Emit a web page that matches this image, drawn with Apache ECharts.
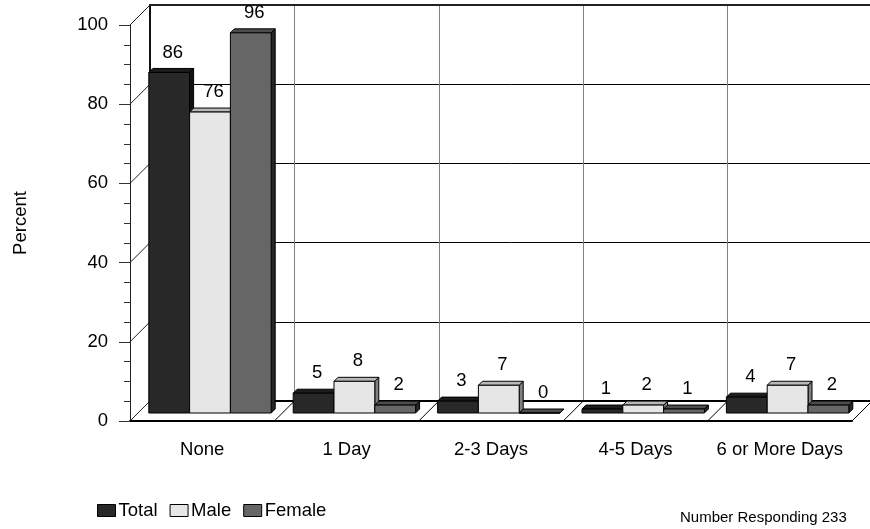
<!DOCTYPE html>
<html>
<head>
<meta charset="utf-8">
<style>
  html, body { margin: 0; padding: 0; background: #fff; }
  #chart { width: 870px; height: 529px; }
</style>
<script src="https://cdn.jsdelivr.net/npm/echarts@6/dist/echarts.min.js"></script>
</head>
<body>
<div id="chart"></div>
<script>
var categories = ['None', '1 Day', '2-3 Days', '4-5 Days', '6 or More Days'];
var seriesNames = ['Total', 'Male', 'Female'];
var totalValues = [86, 5, 3, 1, 4];
var maleValues = [76, 8, 7, 2, 7];
var femaleValues = [96, 2, 0, 1, 2];
var wallTicks = [0, 20, 40, 60, 80, 100];
var note = 'Number Responding 233';

var font = '"Liberation Sans", Arial, sans-serif';
var wallDepth = 20;   // front plane to back wall, px
var barLift = 8;      // bars stand a bit behind the front edge
var barInset = 18.8;
var barWidth = 40.8;
var barDepth = 4;

// one 3d bar: face, top and side, plus the value above it
function barRenderer(slot, face, top, side) {
  return function (params, api) {
    var cat = api.value(0);
    var val = api.value(1);
    var p = api.coord([cat, val]);
    var base = api.coord([cat, 0]);
    var band = api.size([1, 0])[0];
    var x0 = p[0] - band / 2 + barInset + slot * barWidth;
    var x1 = x0 + barWidth;
    var yTop = p[1] - barLift;
    var yBase = base[1] - barLift;
    var line = { stroke: '#000', lineWidth: 1 };
    return {
      type: 'group',
      children: [
        { type: 'polygon', shape: { points: [[x1, yTop], [x1 + barDepth, yTop - barDepth], [x1 + barDepth, yBase - barDepth], [x1, yBase]] },
          style: Object.assign({ fill: side }, line) },
        { type: 'polygon', shape: { points: [[x0, yTop], [x0 + barDepth, yTop - barDepth], [x1 + barDepth, yTop - barDepth], [x1, yTop]] },
          style: Object.assign({ fill: top }, line) },
        { type: 'rect', shape: { x: x0, y: yTop, width: barWidth, height: yBase - yTop },
          style: Object.assign({ fill: face }, line) },
        { type: 'text', z2: 10, style: { text: String(val), x: x0 + barWidth / 2 + 3.5, y: yTop - 20,
            align: 'center', verticalAlign: 'middle', fill: '#000', font: '18.5px ' + font } }
      ]
    };
  };
}

// diagonals on the left wall
function wallRenderer(params, api) {
  var p = api.coord([0, api.value(0)]);
  var band = api.size([1, 0])[0];
  var x = p[0] - band / 2;
  return { type: 'line', shape: { x1: x, y1: p[1], x2: x + wallDepth, y2: p[1] - wallDepth },
    style: { stroke: '#222', lineWidth: 1 } };
}

// diagonals on the floor, one per category boundary
function floorRenderer(params, api) {
  var p = api.coord([api.value(0), 0]);
  var band = api.size([1, 0])[0];
  var x = p[0] + band / 2;
  return { type: 'line', shape: { x1: x, y1: p[1], x2: x + wallDepth, y2: p[1] - wallDepth },
    style: { stroke: '#000', lineWidth: 1 } };
}

function toPoints(values) {
  return values.map(function (v, i) { return [i, v]; });
}

var chart = echarts.init(document.getElementById('chart'));
chart.setOption({
  animation: false,
  backgroundColor: '#fff',
  textStyle: { fontFamily: font },
  title: {
    text: note, left: 675, top: 505,
    textStyle: { fontSize: 15, fontWeight: 'normal', color: '#000', fontFamily: font }
  },
  legend: {
    left: 97, top: 501, padding: 0, icon: 'rect',
    itemWidth: 18, itemHeight: 12, itemGap: 12,
    itemStyle: { borderColor: '#000', borderWidth: 1 },
    textStyle: { fontSize: 18.5, color: '#000', fontFamily: font, padding: [0, 0, 0, -2] },
    selectedMode: false,
    data: seriesNames
  },
  grid: [
    { left: 130, top: 25, width: 722, height: 396, outerBoundsMode: 'none' },
    { left: 150, top: 5, width: 722, height: 396, outerBoundsMode: 'none' }
  ],
  xAxis: [
    { type: 'category', gridIndex: 0, data: categories,
      axisLine: { lineStyle: { color: '#000', width: 2 } },
      axisTick: { alignWithLabel: true, length: 11, lineStyle: { color: '#808080' } },
      axisLabel: { interval: 0, margin: 19, fontSize: 18.5, color: '#000', fontFamily: font } },
    { type: 'category', gridIndex: 1, data: categories,
      axisLine: { lineStyle: { color: '#000', width: 2 } },
      axisTick: { show: false }, axisLabel: { show: false },
      splitLine: { show: true, interval: 0, lineStyle: { color: '#808080', width: 1 } } },
    // top edge of the back wall
    { type: 'category', gridIndex: 1, position: 'top', data: categories,
      axisLine: { lineStyle: { color: '#222', width: 2 } },
      axisTick: { show: false }, axisLabel: { show: false }, splitLine: { show: false } }
  ],
  yAxis: [
    { type: 'value', gridIndex: 0, min: 0, max: 100, interval: 20,
      name: 'Percent', nameLocation: 'middle', nameGap: 100, nameRotate: 90,
      nameTextStyle: { fontSize: 18.5, color: '#000', fontFamily: font },
      axisLine: { show: true, lineStyle: { color: '#222', width: 1 } },
      axisTick: { show: true, length: 11, lineStyle: { color: '#333' } },
      minorTick: { show: true, splitNumber: 4, length: 6, lineStyle: { color: '#333' } },
      axisLabel: { margin: 22, fontSize: 18.5, color: '#000', fontFamily: font, padding: [4, 0, 0, 0] },
      splitLine: { show: false } },
    { type: 'value', gridIndex: 1, min: 0, max: 100, interval: 20,
      axisLine: { show: true, lineStyle: { color: '#111', width: 2 } },
      axisTick: { show: false }, axisLabel: { show: false },
      splitLine: { show: true, lineStyle: { color: '#000', width: 1 } } }
  ],
  series: [
    { type: 'custom', name: 'wall', xAxisIndex: 0, yAxisIndex: 0, z: 1, silent: true,
      data: wallTicks.map(function (v) { return [v]; }), encode: { y: 0 }, renderItem: wallRenderer },
    { type: 'custom', name: 'floor', xAxisIndex: 0, yAxisIndex: 0, z: 1, silent: true,
      data: categories.map(function (c, i) { return [i]; }), encode: { x: 0 }, renderItem: floorRenderer },
    { type: 'custom', name: seriesNames[0], xAxisIndex: 0, yAxisIndex: 0, z: 2,
      itemStyle: { color: '#282828' }, data: toPoints(totalValues), encode: { x: 0, y: 1 },
      renderItem: barRenderer(0, '#282828', '#1c1c1c', '#141414') },
    { type: 'custom', name: seriesNames[1], xAxisIndex: 0, yAxisIndex: 0, z: 3,
      itemStyle: { color: '#e6e6e6' }, data: toPoints(maleValues), encode: { x: 0, y: 1 },
      renderItem: barRenderer(1, '#e6e6e6', '#b8b8b8', '#808080') },
    { type: 'custom', name: seriesNames[2], xAxisIndex: 0, yAxisIndex: 0, z: 4,
      itemStyle: { color: '#666666' }, data: toPoints(femaleValues), encode: { x: 0, y: 1 },
      renderItem: barRenderer(2, '#666666', '#4c4c4c', '#262626') }
  ]
});
</script>
</body>
</html>
